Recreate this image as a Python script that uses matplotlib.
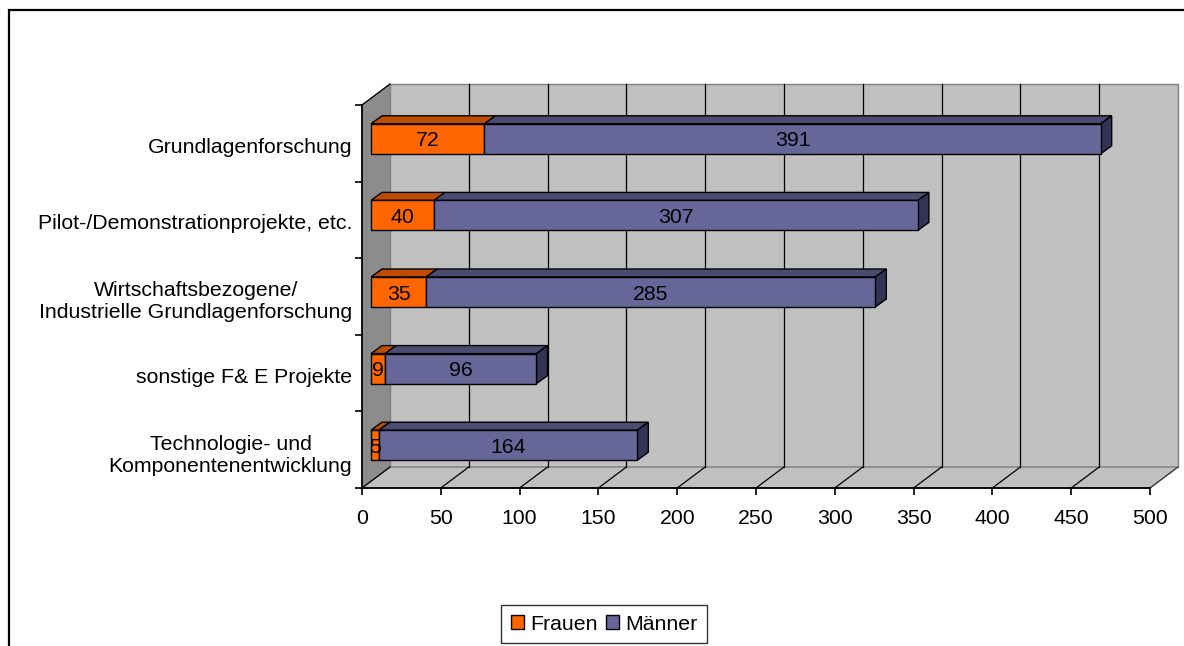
import matplotlib
matplotlib.use("Agg")
import matplotlib.pyplot as plt
from matplotlib.patches import Polygon, Rectangle, Patch
import numpy as np

plt.rcParams['font.family'] = ['Liberation Sans', 'DejaVu Sans']

# ---- data (bottom to top) ----
categories = ["Technologie- und\nKomponentenentwicklung",
              "sonstige F& E Projekte",
              "Wirtschaftsbezogene/\nIndustrielle Grundlagenforschung",
              "Pilot-/Demonstrationprojekte, etc.",
              "Grundlagenforschung"]
frauen = [5, 9, 35, 40, 72]
maenner = [164, 96, 285, 307, 391]
series_names = ["Frauen", "Männer"]
x_ticks = list(range(0, 501, 50))

# ---- styling / geometry ----
W, H, DPI = 1184, 646, 100
FS = 15.3
c_front = {"Frauen": "#FF6600", "Männer": "#666699"}
c_top = {"Frauen": "#C04C00", "Männer": "#4C4C73"}
c_side = {"Frauen": "#A04000", "Männer": "#333355"}
wall_c = "#C0C0C0"
lwall_c = "#8C8C8C"

fig = plt.figure(figsize=(W / DPI, H / DPI), dpi=DPI)
ax_l, ax_r, ax_top, ax_bot = 362, 1150, 105, 488  # pixel frame of the axes
ax = fig.add_axes([ax_l / W, (H - ax_bot) / H, (ax_r - ax_l) / W, (ax_bot - ax_top) / H])
ax.set_xlim(0, 500)
ax.set_ylim(0, len(categories))
ax.patch.set_visible(False)

XS = (ax_r - ax_l) / 500.0                   # px per value unit
YS = (ax_bot - ax_top) / len(categories)     # px per category
DXw, DYw = 28 / XS, 21 / YS                  # wall depth
bx0, by0 = 9 / XS, 4.5 / YS                  # bar front offset
bdx, bdy = 11 / XS, 8 / YS                   # bar depth
bh = 30 / YS                                 # bar height
lab_dy = 2 / YS                              # label nudge downwards
n = len(categories)
xmax = 500

# left wall
ax.add_patch(Polygon([(0, 0), (0, n), (DXw, n + DYw), (DXw, DYw)], closed=True,
                     facecolor=lwall_c, edgecolor="none", clip_on=False, zorder=1))
# back wall
ax.add_patch(Rectangle((DXw, DYw), xmax, n, facecolor=wall_c, edgecolor="#808080",
                       lw=1.0, clip_on=False, zorder=1))
# floor
ax.add_patch(Polygon([(0, 0), (xmax, 0), (xmax + DXw, DYw), (DXw, DYw)], closed=True,
                     facecolor=wall_c, edgecolor="#808080", lw=1.0, clip_on=False, zorder=1))
# gridlines on back wall and floor
for v in x_ticks:
    if 0 < v < xmax:
        ax.plot([v + DXw, v + DXw], [DYw, n + DYw], color="black", lw=0.9,
                clip_on=False, zorder=2)
    ax.plot([v, v + DXw], [0, DYw], color="black" if v < xmax else "#404040",
            lw=0.9, clip_on=False, zorder=2)
# top edge of left wall
ax.plot([0, DXw], [n, n + DYw], color="black", lw=1.0, clip_on=False, zorder=2)

# bars
yc = np.arange(n) + 0.5 + by0
left = np.zeros(n)
for name, vals in zip(series_names, [frauen, maenner]):
    vals = np.array(vals, dtype=float)
    bars = ax.barh(yc, vals, left=left + bx0, height=bh, color=c_front[name],
                   edgecolor="black", lw=1.0, zorder=4, clip_on=False)
    for i, (b, v) in enumerate(zip(bars, vals)):
        l = left[i] + bx0
        r = l + v
        t = yc[i] + bh / 2
        bt = yc[i] - bh / 2
        ax.add_patch(Polygon([(l, t), (r, t), (r + bdx, t + bdy), (l + bdx, t + bdy)],
                             closed=True, facecolor=c_top[name], edgecolor="black",
                             lw=1.0, zorder=3, clip_on=False))
        if name == series_names[-1]:
            ax.add_patch(Polygon([(r, bt), (r, t), (r + bdx, t + bdy), (r + bdx, bt + bdy)],
                                 closed=True, facecolor=c_side[name], edgecolor="black",
                                 lw=1.0, zorder=3, clip_on=False))
        txt = ax.text(l + v / 2, yc[i] - lab_dy, f"{int(v)}", ha="center", va="center",
                      fontsize=FS, color="black", zorder=5)
        txt.set_clip_path(b)
    left = left + vals

# axes styling
for s in ["top", "right"]:
    ax.spines[s].set_visible(False)
for s in ["left", "bottom"]:
    ax.spines[s].set_color("black")
    ax.spines[s].set_linewidth(1.3)
    ax.spines[s].set_zorder(6)
ax.set_xticks(x_ticks)
ax.set_xticklabels([str(v) for v in x_ticks], fontsize=FS)
ax.set_yticks(np.arange(n + 1))
ax.set_yticklabels([])
ax.tick_params(axis="both", which="major", direction="out", length=5, width=1.2,
               color="black")
ax.tick_params(axis="x", pad=10)
ax.set_yticks(np.arange(n) + 0.5 - lab_dy, labels=categories, minor=True)
ax.tick_params(axis="y", which="minor", length=0, pad=7, labelsize=FS)
for t in ax.get_yticklabels(minor=True):
    t.set_multialignment("center")

# legend
handles = [Patch(facecolor=c_front[s], edgecolor="black", lw=1.0) for s in series_names]
leg = fig.legend(handles, series_names, loc="center", bbox_to_anchor=(604 / W, 1 - 624 / H),
                 ncol=2, fontsize=FS, frameon=True, fancybox=False, handlelength=0.6,
                 handleheight=0.6, handletextpad=0.3, columnspacing=0.4, borderpad=0.45,
                 borderaxespad=0)
leg.get_frame().set_edgecolor("black")
leg.get_frame().set_linewidth(1.0)

# outer chart border
fig.add_artist(Rectangle((8.5 / W, -0.05), 1.2, 1.05 - 10.5 / H, transform=fig.transFigure,
                         fill=False, edgecolor="black", lw=1.6))

fig.savefig("out.png", dpi=DPI)
